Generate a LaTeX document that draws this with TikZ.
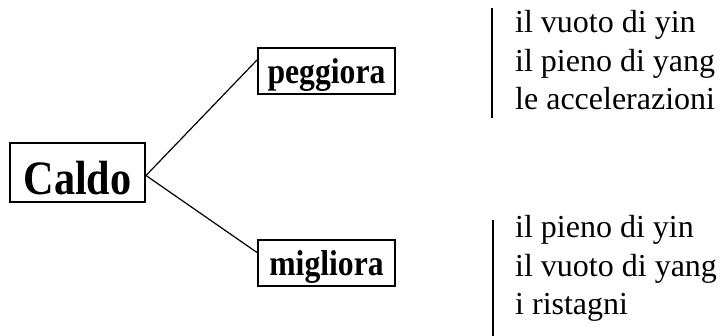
\documentclass[tikz,border=0pt]{standalone}
\usepackage{fontspec}
\setmainfont{Liberation Serif}
\newfontfamily\boxfont[FakeStretch=0.88]{Liberation Serif}
\begin{document}
\begin{tikzpicture}[x=1pt,y=1pt]
    \tikzset{
        box/.style={draw, line width=2pt, inner sep=0pt, text depth=0pt},
        smallbox/.style={box, minimum width=137pt, minimum height=46pt, text height=25pt,
            font=\boxfont\bfseries\fontsize{36}{43}\selectfont},
        item/.style={anchor=base west, inner sep=0pt, font=\fontsize{32}{38}\selectfont},
        bar/.style={line width=1.6pt},
    }
    \useasboundingbox (0,0) rectangle (720,336);
    \node[box, minimum width=135pt, minimum height=59pt, text height=45pt,
        font=\boxfont\bfseries\fontsize{48}{58}\selectfont] (caldo) at (77.5,163.5) {Caldo};
    \node[smallbox] (peggiora) at (326.5,265) {peggiora};
    \node[smallbox] (migliora) at (326.5,72.5) {migliora};
    \node[item] (vuotoyin) at (515,303) {il vuoto di yin};
    \node[item] (pienoyang) at (515,264.5) {il pieno di yang};
    \node[item] (accel) at (515,226) {le accelerazioni};
    \node[item] (pienoyin) at (515,98) {il pieno di yin};
    \node[item] (vuotoyang) at (515,59.5) {il vuoto di yang};
    \node[item] (ristagni) at (515,21) {i ristagni};
    \draw[line width=1.2pt] ([yshift=-3pt]caldo.east) -- ([yshift=11pt]peggiora.west);
    \draw[line width=1.2pt] ([yshift=-3pt]caldo.east) -- ([yshift=11pt]migliora.west);
    \draw[bar] (492,328) -- (492,218);
    \draw[bar] (493,116) -- (493,0);
\end{tikzpicture}
\end{document}
